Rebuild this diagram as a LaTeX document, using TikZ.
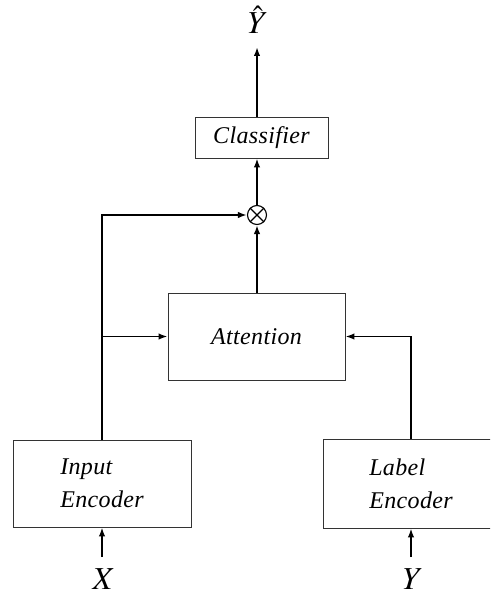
\documentclass[tikz,border=0pt]{standalone}
\usepackage{mathptmx}
\usepackage[no-math]{fontspec}
\setmainfont{Liberation Serif}
\newfontfamily\boxfont[LetterSpace=1.5,Ligatures=NoCommon]{Liberation Serif}
\usetikzlibrary{arrows.meta}
\begin{document}
\begin{tikzpicture}[x=1pt,y=-1pt,
  box/.style={draw=black!80,line width=0.9pt,inner sep=0pt,
    font=\boxfont\fontsize{24}{33}\selectfont\itshape},
  arr/.style={line width=1.8pt,-{Latex[length=9pt,width=6.5pt]}},
  var/.style={inner sep=0pt,font=\fontsize{32}{34}\selectfont}]
\useasboundingbox (0,0) rectangle (490,594);
\clip (0,0) rectangle (490,594);

% blocks
\node[box,minimum width=133,minimum height=41] (cls) at (261.5,137.5) {Classifier};
\node[box,minimum width=177,minimum height=87] (att) at (256.5,336.5) {Attention};
\node[box,minimum width=178,minimum height=87,align=left] (inenc) at (102,483.5) {Input\\Encoder};
\node[box,minimum width=176,minimum height=89,align=left] (labenc) at (411,483.5) {Label\\Encoder};

% multiplication node
\node[circle,draw,line width=1.1pt,minimum size=19pt,inner sep=0pt] (mul) at (257,215) {};
\draw[line width=1.1pt] (mul.north west) -- (mul.south east);
\draw[line width=1.1pt] (mul.north east) -- (mul.south west);

% inputs and output
\node[var] (yhat) at (258,20) {$\hat{Y}$};
\node[var] (xin) at (104,579) {$X$};
\node[var] (yin) at (413,579) {$Y$};
\coordinate (ytip) at (257,47);
\coordinate (xtail) at (102,557);
\coordinate (ytail) at (411,557);

% connectors
\draw[arr] (xtail) -- (inenc.south);
\draw[arr] (ytail) -- (labenc.south);
\draw[arr] (inenc.north) |- (mul.west);
\draw[arr] (inenc.north |- att.west) -- (att.west);
\draw[arr] (labenc.north) |- (att.east);
\draw[arr] (att.north -| mul) -- (mul.south);
\draw[arr] (mul.north) -- (mul |- cls.south);
\draw[arr] (mul |- cls.north) -- (ytip);
\end{tikzpicture}
\end{document}
